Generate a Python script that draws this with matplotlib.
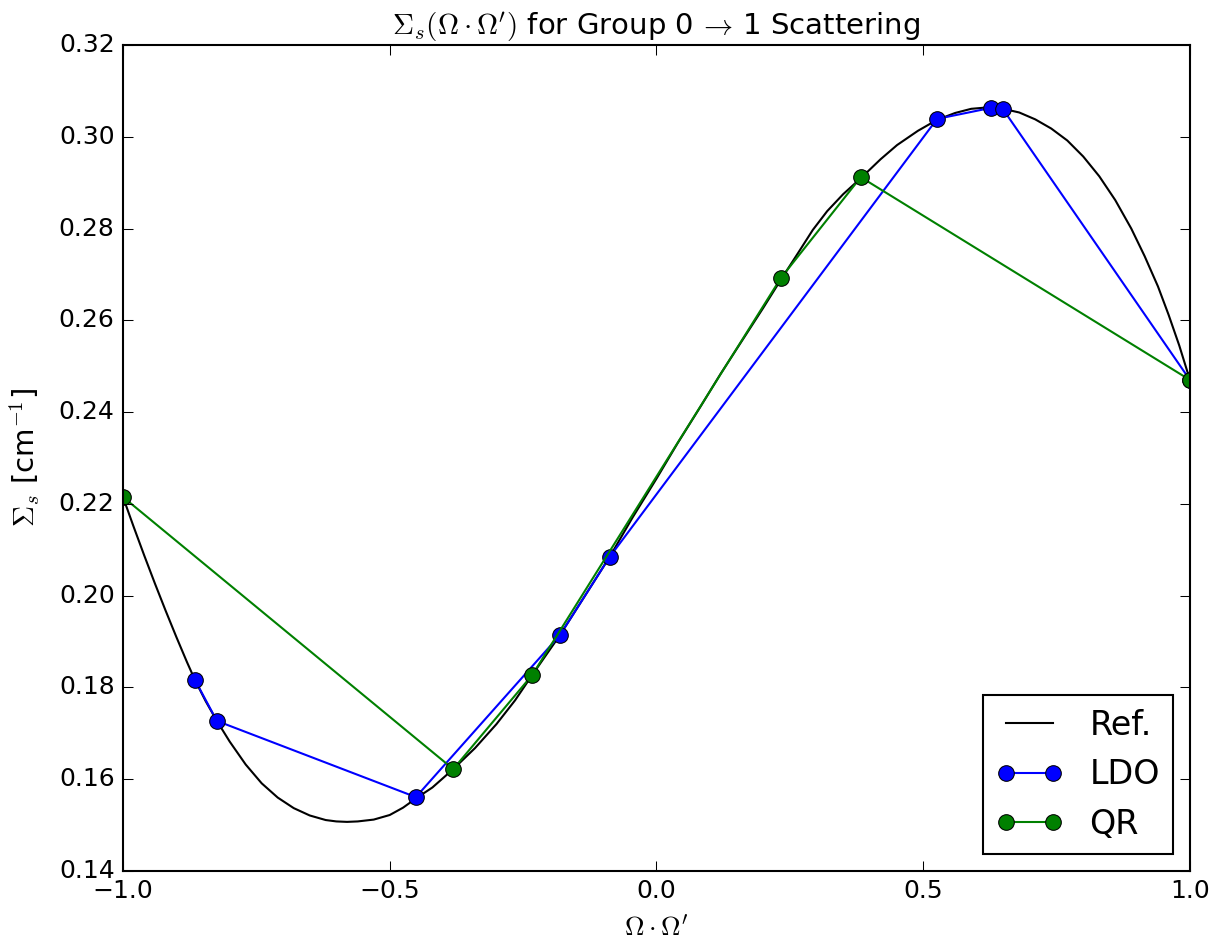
import matplotlib
matplotlib.use("Agg")
import matplotlib.pyplot as plt

plt.style.use("classic")

# valores
ref_mu = [-1.0, -0.98, -0.96, -0.94, -0.92, -0.90, -0.88, -0.865, -0.845, -0.824,
          -0.80, -0.77, -0.74, -0.71, -0.68, -0.65, -0.62, -0.60, -0.58, -0.56,
          -0.53, -0.50, -0.475, -0.451, -0.42, -0.381, -0.34, -0.30, -0.265, -0.233,
          -0.181, -0.135, -0.088, -0.045, 0.0, 0.04, 0.082, 0.12, 0.16, 0.20,
          0.235, 0.265, 0.293, 0.32, 0.35, 0.385, 0.42, 0.451, 0.49, 0.526,
          0.56, 0.59, 0.62, 0.65, 0.68, 0.71, 0.74, 0.77, 0.80, 0.83,
          0.86, 0.89, 0.915, 0.94, 0.96, 0.98, 1.0]
ref_sig = [0.2215, 0.2150, 0.2087, 0.2026, 0.1967, 0.1910, 0.1855, 0.1816, 0.1770, 0.1727,
           0.1682, 0.1632, 0.1591, 0.1560, 0.1537, 0.1521, 0.1511, 0.1508, 0.1507, 0.1508,
           0.1512, 0.1522, 0.1538, 0.1558, 0.1582, 0.1622, 0.1668, 0.1720, 0.1772, 0.1827,
           0.1914, 0.1998, 0.2084, 0.2170, 0.2255, 0.2333, 0.2411, 0.2483, 0.2555, 0.2627,
           0.2692, 0.2746, 0.2797, 0.2838, 0.2875, 0.2912, 0.2951, 0.2982, 0.3013, 0.3037,
           0.3052, 0.3061, 0.3064, 0.3061, 0.3053, 0.3038, 0.3018, 0.2992, 0.2957, 0.2914,
           0.2862, 0.2800, 0.2740, 0.2674, 0.2612, 0.2545, 0.2470]

ldo_mu = [-0.865, -0.824, -0.451, -0.181, -0.088, 0.526, 0.627, 0.649, 1.0]
ldo_sig = [0.1816, 0.1727, 0.1561, 0.1914, 0.2084, 0.3039, 0.3063, 0.3061, 0.2470]

qr_mu = [-1.0, -0.381, -0.233, 0.233, 0.383, 1.0]
qr_sig = [0.2215, 0.1622, 0.1827, 0.2692, 0.2912, 0.2470]

fig = plt.figure(figsize=(1213 / 150, 946 / 150), dpi=150, facecolor="white")
ax = fig.add_axes([0.1014, 0.0793, 0.8796, 0.8731])

ax.plot(ref_mu, ref_sig, color="k", lw=1.0, label="Ref.")
ax.plot(ldo_mu, ldo_sig, color="b", lw=1.0, marker="o", markersize=7.5, label="LDO")
ax.plot(qr_mu, qr_sig, color="g", lw=1.0, marker="o", markersize=7.5, label="QR")

ax.set_xlim(-1.0, 1.0)
ax.set_ylim(0.14, 0.32)
ax.set_xticks([-1.0, -0.5, 0.0, 0.5, 1.0])
ax.set_yticks([0.14, 0.16, 0.18, 0.20, 0.22, 0.24, 0.26, 0.28, 0.30, 0.32])
ax.tick_params(labelsize=12, length=5)

ax.set_title(r"$\Sigma_s(\Omega\cdot\Omega^\prime)$ for Group 0 $\!\rightarrow\!$ 1 Scattering", fontsize=14)
ax.set_xlabel(r"$\Omega\cdot\Omega^\prime$", fontsize=13, labelpad=6)
ax.set_ylabel(r"$\Sigma_s$ [cm$^{-1}$]", fontsize=14, labelpad=8)

ax.legend(loc="lower right", fontsize=16, numpoints=2)

fig.savefig("out.png", dpi=150, facecolor="white")
